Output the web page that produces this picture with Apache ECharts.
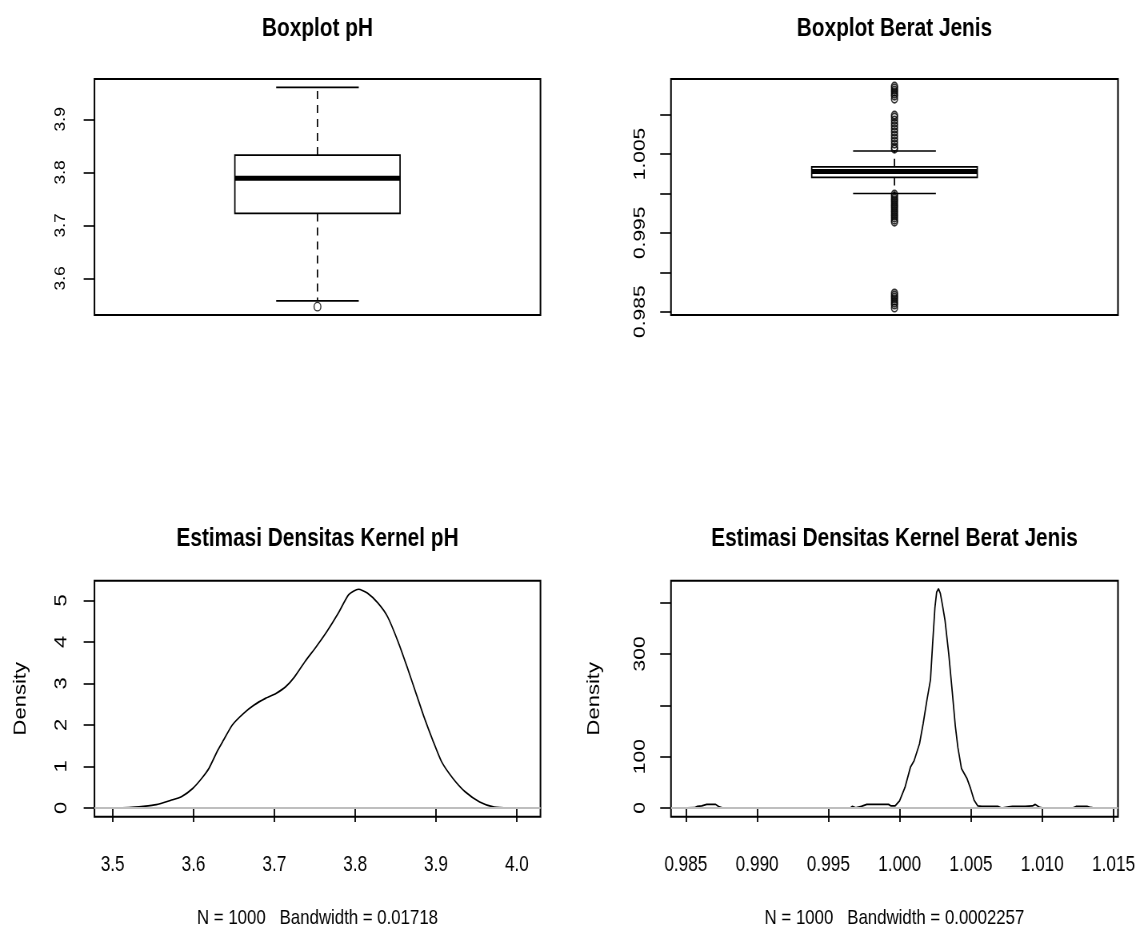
<!DOCTYPE html>
<html><head><meta charset="utf-8">
<script src="https://cdn.jsdelivr.net/npm/echarts@6/dist/echarts.min.js"></script>
<style>
html,body{margin:0;padding:0;background:#fff;overflow:hidden;width:1141px;height:936px}
#c{width:1426.25px;height:936px;transform:scaleX(0.8);transform-origin:0 0}
</style>
</head><body><div id="c"></div><script>
// ---- data ----
const titles = ['Boxplot pH', 'Boxplot Berat Jenis', 'Estimasi Densitas Kernel pH', 'Estimasi Densitas Kernel Berat Jenis'];
const subtitles = ['N = 1000   Bandwidth = 0.01718', 'N = 1000   Bandwidth = 0.0002257'];
// [lower whisker, Q1, median, Q3, upper whisker]
const phBox = [3.5577, 3.7226, 3.7887, 3.8326, 3.9603];
const phOutliers = [3.5467];
const bjBox = [0.99998, 1.00203, 1.00277, 1.00337, 1.00537];
const bjOutliers = [1.01361, 1.01336, 1.01310, 1.01285, 1.01259, 1.01234, 1.01196,
  1.00993, 1.00967, 1.00929, 1.00891, 1.00854, 1.00816, 1.00778, 1.00739, 1.00701, 1.00663, 1.00625, 1.00587, 1.00562,
  0.99991, 0.99966, 0.99940, 0.99915, 0.99890, 0.99864, 0.99839, 0.99814, 0.99788, 0.99763, 0.99737, 0.99712, 0.99687, 0.99661, 0.99636,
  0.98736, 0.98710, 0.98685, 0.98660, 0.98634, 0.98609, 0.98584, 0.98546];
const phDensity = [[3.497,0],[3.52,0.01],[3.538,0.04],[3.554,0.08],[3.572,0.185],[3.585,0.27],[3.599,0.47],[3.610,0.71],[3.619,0.95],[3.630,1.39],[3.637,1.63],[3.648,2.0],[3.662,2.28],[3.675,2.48],[3.689,2.64],[3.702,2.76],[3.714,2.92],[3.725,3.16],[3.738,3.53],[3.752,3.89],[3.765,4.25],[3.779,4.69],[3.792,5.14],[3.804,5.27],[3.815,5.18],[3.828,4.94],[3.840,4.61],[3.853,4.01],[3.864,3.41],[3.876,2.72],[3.885,2.2],[3.896,1.63],[3.907,1.11],[3.921,0.71],[3.936,0.39],[3.954,0.145],[3.972,0.02],[3.99,0],[4.010,0]];
const bjDensity = [[0.98512,0],[0.98560,0.5],[0.98582,3],[0.98612,4],[0.98646,7],[0.98709,7],[0.98735,2],[0.98760,0],[0.99654,0],[0.99667,3],[0.99692,0.5],[0.99731,3],[0.99769,7],[0.99846,7],[0.99922,7],[0.99940,4],[0.99968,4],[0.99999,14],[1.00037,40],[1.00076,80],[1.00101,92],[1.00139,125],[1.00165,165],[1.00191,210],[1.00216,250],[1.00231,320],[1.00247,390],[1.00259,420],[1.00272,427],[1.00285,418],[1.00300,395],[1.00318,365],[1.00344,300],[1.00369,225],[1.00390,160],[1.00408,118],[1.00433,77],[1.00471,58],[1.00497,38],[1.00522,15],[1.00548,4],[1.00574,3],[1.00688,3],[1.00714,0],[1.00765,2],[1.00791,3],[1.00842,3],[1.00880,3],[1.00931,4],[1.00951,7],[1.00982,1],[1.01008,0],[1.01212,0],[1.01237,3],[1.01314,3],[1.01340,1],[1.01365,0],[1.01414,0]];
const phBoxTicks = [3.6, 3.7, 3.8, 3.9];
const bjBoxTicks = [0.985, 0.990, 0.995, 1.000, 1.005, 1.010];
const bjBoxLabels = [0.985, 0.995, 1.005];
const phDensXTicks = [3.5, 3.6, 3.7, 3.8, 3.9, 4.0];
const phDensYTicks = [0, 1, 2, 3, 4, 5];
const bjDensXTicks = [0.985, 0.990, 0.995, 1.000, 1.005, 1.010, 1.015];
const bjDensYTicks = [0, 100, 200, 300, 400];
const bjDensYLabels = [0, 100, 300];

// ---- styling (chart is drawn 1/0.8 wide and squeezed horizontally by CSS) ----
const FONT = "'Liberation Sans',Arial,sans-serif";
const grids = [
  {left: 118.1, top: 79, width: 557.5, height: 236},
  {left: 838.75, top: 79, width: 558.75, height: 236},
  {left: 118.1, top: 580.7, width: 557.5, height: 236},
  {left: 838.75, top: 580.7, width: 558.75, height: 236}
].map(g => Object.assign(g, {show: true, borderColor: '#000', borderWidth: 2, backgroundColor: 'transparent', containLabel: false}));

function yAxis(gi, min, max, ticks, labels, fs, margin, fmt, name, nameGap) {
  return {
    gridIndex: gi, type: 'value', min: min, max: max,
    splitLine: {show: false}, axisLine: {show: false},
    axisTick: {show: true, length: 13.5, lineStyle: {color: '#000', width: 1.6}, customValues: ticks},
    axisLabel: {show: true, customValues: labels, rotate: 90, margin: margin, fontSize: fs, color: '#000', fontFamily: FONT, formatter: fmt},
    name: name || '', nameLocation: 'middle', nameRotate: 90, nameGap: nameGap || 0,
    nameTextStyle: {fontSize: 22, fontFamily: FONT, color: '#000'}
  };
}
function xAxisVal(gi, min, max, ticks, fmt) {
  return {
    gridIndex: gi, type: 'value', min: min, max: max,
    splitLine: {show: false}, axisLine: {show: false},
    axisTick: {show: true, length: 14, lineStyle: {color: '#000', width: 1.8}, customValues: ticks},
    axisLabel: {show: true, customValues: ticks, margin: 37, fontSize: 21.5, color: '#000', fontFamily: FONT, formatter: fmt}
  };
}
function xAxisBox(gi) {
  return {gridIndex: gi, type: 'value', min: 0.46, max: 1.54, show: false, splitLine: {show: false}};
}

function renderBox(params, api) {
  const x = api.value(0);
  const lo = api.value(1), q1 = api.value(2), med = api.value(3), q3 = api.value(4), hi = api.value(5);
  const hb = 0.2, hc = 0.1;
  const c = (a, b) => api.coord([a, b]);
  const pTop = c(x - hb, q3), pBot = c(x + hb, q1);
  const line = (p1, p2, w, dash) => ({
    type: 'line', shape: {x1: p1[0], y1: p1[1], x2: p2[0], y2: p2[1]},
    style: {stroke: '#000', lineWidth: w, lineDash: dash || null}
  });
  return {
    type: 'group',
    children: [
      line(c(x, q3), c(x, hi), 1.7, [8, 6]),
      line(c(x, q1), c(x, lo), 1.7, [8, 6]),
      line(c(x - hc, hi), c(x + hc, hi), 1.6),
      line(c(x - hc, lo), c(x + hc, lo), 1.6),
      {type: 'rect', shape: {x: pTop[0], y: pTop[1], width: pBot[0] - pTop[0], height: pBot[1] - pTop[1]},
        style: {fill: '#fff', stroke: '#000', lineWidth: 1.7}},
      line(c(x - hb, med), c(x + hb, med), 5)
    ]
  };
}

const fmt1 = v => Number(v).toFixed(1);
const fmt3 = v => Number(v).toFixed(3);
const fmt0 = v => String(Math.round(v));

const baseLine = {silent: true, symbol: 'none', label: {show: false}, animation: false,
  lineStyle: {color: '#bebebe', width: 2, type: 'solid'}, data: [{yAxis: 0}]};

const textEl = (x, y, text, font) => ({type: 'text', x: x, y: y,
  style: {text: text, font: font, fill: '#000', textAlign: 'center', textVerticalAlign: 'middle'}});

const option = {
  animation: false,
  backgroundColor: '#fff',
  grid: grids,
  xAxis: [xAxisBox(0), xAxisBox(1), xAxisVal(2, 3.4775, 4.0292, phDensXTicks, fmt1), xAxisVal(3, 0.98396, 1.01531, bjDensXTicks, fmt3)],
  yAxis: [
    yAxis(0, 3.531, 3.976, phBoxTicks, phBoxTicks, 17.5, 33, fmt1),
    yAxis(1, 0.98458, 1.01451, bjBoxTicks, bjBoxLabels, 21, 28, fmt3),
    yAxis(2, -0.2106, 5.476, phDensYTicks, phDensYTicks, 22, 30, fmt0, 'Density', 81),
    yAxis(3, -17.0, 442.6, bjDensYTicks, bjDensYLabels, 21, 28, fmt0, 'Density', 84.5)
  ],
  series: [
    {type: 'custom', xAxisIndex: 0, yAxisIndex: 0, renderItem: renderBox, data: [[1].concat(phBox)], z: 2},
    {type: 'scatter', xAxisIndex: 0, yAxisIndex: 0, data: phOutliers.map(v => [1, v]), symbol: 'circle', symbolSize: 8.5,
      itemStyle: {color: 'rgba(0,0,0,0)', borderColor: '#000', borderWidth: 1.4}, z: 3},
    {type: 'custom', xAxisIndex: 1, yAxisIndex: 1, renderItem: renderBox, data: [[1].concat(bjBox)], z: 2},
    {type: 'scatter', xAxisIndex: 1, yAxisIndex: 1, data: bjOutliers.map(v => [1, v]), symbol: 'circle', symbolSize: 7.5,
      itemStyle: {color: 'rgba(0,0,0,0)', borderColor: '#000', borderWidth: 1.6}, z: 3},
    {type: 'line', xAxisIndex: 2, yAxisIndex: 2, data: phDensity, showSymbol: false, smooth: 0.2,
      lineStyle: {color: '#000', width: 1.7}, markLine: baseLine},
    {type: 'line', xAxisIndex: 3, yAxisIndex: 3, data: bjDensity, showSymbol: false, smooth: false,
      lineStyle: {color: '#000', width: 1.7}, markLine: baseLine}
  ],
  graphic: [
    textEl(396.9, 29, titles[0], 'bold 26px ' + FONT),
    textEl(1118.1, 29, titles[1], 'bold 26px ' + FONT),
    textEl(396.9, 539, titles[2], 'bold 26px ' + FONT),
    textEl(1118.1, 539, titles[3], 'bold 26px ' + FONT),
    textEl(396.9, 918, subtitles[0], '21px ' + FONT),
    textEl(1118.1, 918, subtitles[1], '21px ' + FONT)
  ]
};
const chart = echarts.init(document.getElementById('c'), null, {renderer: 'canvas'});
chart.setOption(option);
</script></body></html>
